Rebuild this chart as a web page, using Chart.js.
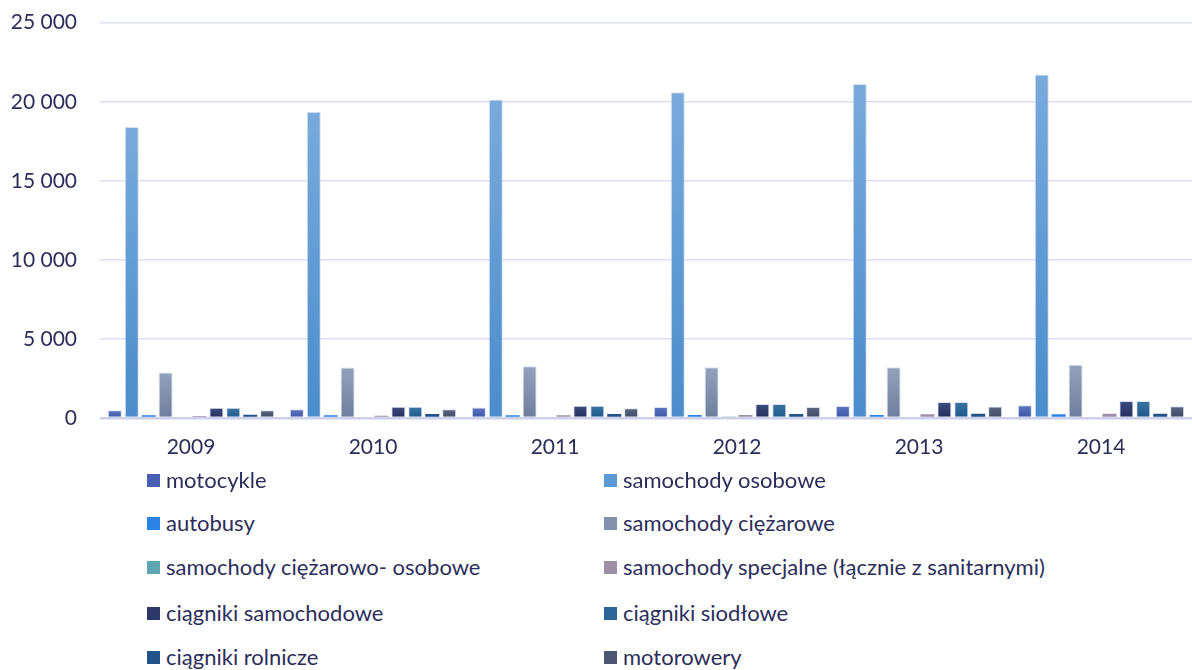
<!DOCTYPE html>
<html>
<head>
<meta charset="utf-8">
<script src="https://cdn.jsdelivr.net/npm/chart.js@4/dist/chart.umd.min.js"></script>
<style>
  html, body { margin: 0; padding: 0; background: #ffffff; }
  #wrap { position: relative; width: 1192px; height: 670px; overflow: hidden; }
  #c { position: absolute; left: 0; top: 0; }
  .lg { position: absolute; font-family: Lato, "Noto Sans", sans-serif; font-size: 22px; color: #2b2e5a; white-space: nowrap; line-height: 24px; height: 24px; }
  .lg span.box { position: absolute; left: 0; top: 6px; width: 13px; height: 13px; }
  .lg span.txt { position: absolute; left: 19px; top: 0; }
</style>
</head>
<body>
<div id="wrap">
  <canvas id="c" width="1192" height="470"></canvas>
  <div id="legend"></div>
</div>
<script>
const years = ['2009', '2010', '2011', '2012', '2013', '2014'];
const yTicks = [0, 5000, 10000, 15000, 20000, 25000];

const seriesNames = [
  'motocykle',
  'samochody osobowe',
  'autobusy',
  'samochody ciężarowe',
  'samochody ciężarowo- osobowe',
  'samochody specjalne (łącznie z sanitarnymi)',
  'ciągniki samochodowe',
  'ciągniki siodłowe',
  'ciągniki rolnicze',
  'motorowery'
];

const motocykle           = [490, 550, 670, 690, 755, 800];
const samochodyOsobowe    = [18400, 19370, 20150, 20600, 21120, 21730];
const autobusy            = [170, 170, 170, 190, 190, 230];
const samochodyCiezarowe  = [2880, 3190, 3270, 3210, 3210, 3360];
const ciezarowoOsobowe    = [80, 80, 80, 100, 80, 80];
const samochodySpecjalne  = [130, 150, 170, 190, 230, 270];
const ciagnikiSamochodowe = [650, 710, 775, 880, 1010, 1070];
const ciagnikiSiodlowe    = [650, 710, 775, 880, 1010, 1070];
const ciagnikiRolnicze    = [210, 250, 250, 250, 270, 270];
const motorowery          = [490, 550, 610, 690, 735, 750];

const seriesValues = [
  motocykle, samochodyOsobowe, autobusy, samochodyCiezarowe, ciezarowoOsobowe,
  samochodySpecjalne, ciagnikiSamochodowe, ciagnikiSiodlowe, ciagnikiRolnicze, motorowery
];

// [top colour, bottom colour, legend colour]
const palette = [
  ['#5d74c2', '#3f55a6', '#4a5fb3'],
  ['#79aadb', '#4a8ccc', '#5b9ad5'],
  ['#3f93f2', '#1f74d8', '#2a82e4'],
  ['#93a2bb', '#6d7e9d', '#8191ad'],
  ['#72b2bc', '#4e9aa6', '#5ea7b2'],
  ['#ab9fb3', '#8b7e97', '#9d90a6'],
  ['#3d4b82', '#222e5c', '#2c3869'],
  ['#3a74a3', '#1f598b', '#2a6698'],
  ['#2d5d95', '#1a4a80', '#22528a'],
  ['#5c6882', '#3e4a64', '#4b5672']
];

function fmt(v) {
  return String(v).replace(/\B(?=(\d{3})+(?!\d))/g, ' ');
}

function barGradient(idx) {
  return function (ctx) {
    const chart = ctx.chart;
    const y = chart.scales && chart.scales.y;
    if (!chart.chartArea || !y || ctx.raw === undefined) return palette[idx][2];
    const top = y.getPixelForValue(ctx.raw);
    const bottom = y.getPixelForValue(0);
    if (!isFinite(top) || !isFinite(bottom) || bottom - top < 6) return palette[idx][2];
    const g = chart.ctx.createLinearGradient(0, top, 0, bottom);
    g.addColorStop(0, palette[idx][0]);
    g.addColorStop(1, palette[idx][1]);
    return g;
  };
}

const datasets = seriesNames.map((name, i) => ({
  label: name,
  data: seriesValues[i],
  backgroundColor: barGradient(i),
  borderColor: 'rgba(214,222,238,0.9)',
  borderWidth: c => (c.raw !== undefined && c.raw >= 400) ? 1 : 0,
  categoryPercentage: 0.93,
  barPercentage: 0.83
}));

const FONT = { family: 'Lato, "Noto Sans", sans-serif', size: 21 };

const chart = new Chart(document.getElementById('c'), {
  type: 'bar',
  data: { labels: years, datasets: datasets },
  options: {
    responsive: false,
    animation: false,
    layout: { padding: { top: 22.7, left: 0, right: 0, bottom: 0 } },
    plugins: {
      legend: { display: false },
      tooltip: { enabled: false }
    },
    scales: {
      x: {
        grid: { display: false },
        border: { display: false },
        ticks: { font: FONT, color: '#2b2e5a', padding: 9, maxRotation: 0 },
        afterFit: s => { s.height = 52; s.paddingLeft = 0; s.paddingRight = 0; }
      },
      y: {
        min: 0,
        max: 25000,
        afterBuildTicks: s => { s.ticks = yTicks.map(v => ({ value: v })); },
        grid: {
          drawTicks: false,
          color: c => (c.tick && c.tick.value === 0) ? '#cdd0ea' : '#dcdef2',
          lineWidth: c => (c.tick && c.tick.value === 0) ? 2.5 : 1.5
        },
        border: { display: false },
        ticks: { font: FONT, color: '#2b2e5a', padding: 23, callback: v => fmt(v) },
        afterFit: s => { s.width = 100; s.paddingTop = 0; s.paddingBottom = 0; }
      }
    }
  }
});

// HTML legend built from the chart's datasets (two columns)
const legend = document.getElementById('legend');
const colX = [147, 604];
const rowY = [468, 511, 555, 601, 645];
chart.data.datasets.forEach((ds, i) => {
  const col = i % 2, row = Math.floor(i / 2);
  const item = document.createElement('div');
  item.className = 'lg';
  item.style.left = colX[col] + 'px';
  item.style.top = rowY[row] + 'px';
  const box = document.createElement('span');
  box.className = 'box';
  box.style.background = palette[i][2];
  const txt = document.createElement('span');
  txt.className = 'txt';
  txt.textContent = ds.label;
  item.appendChild(box);
  item.appendChild(txt);
  legend.appendChild(item);
});
</script>
</body>
</html>
